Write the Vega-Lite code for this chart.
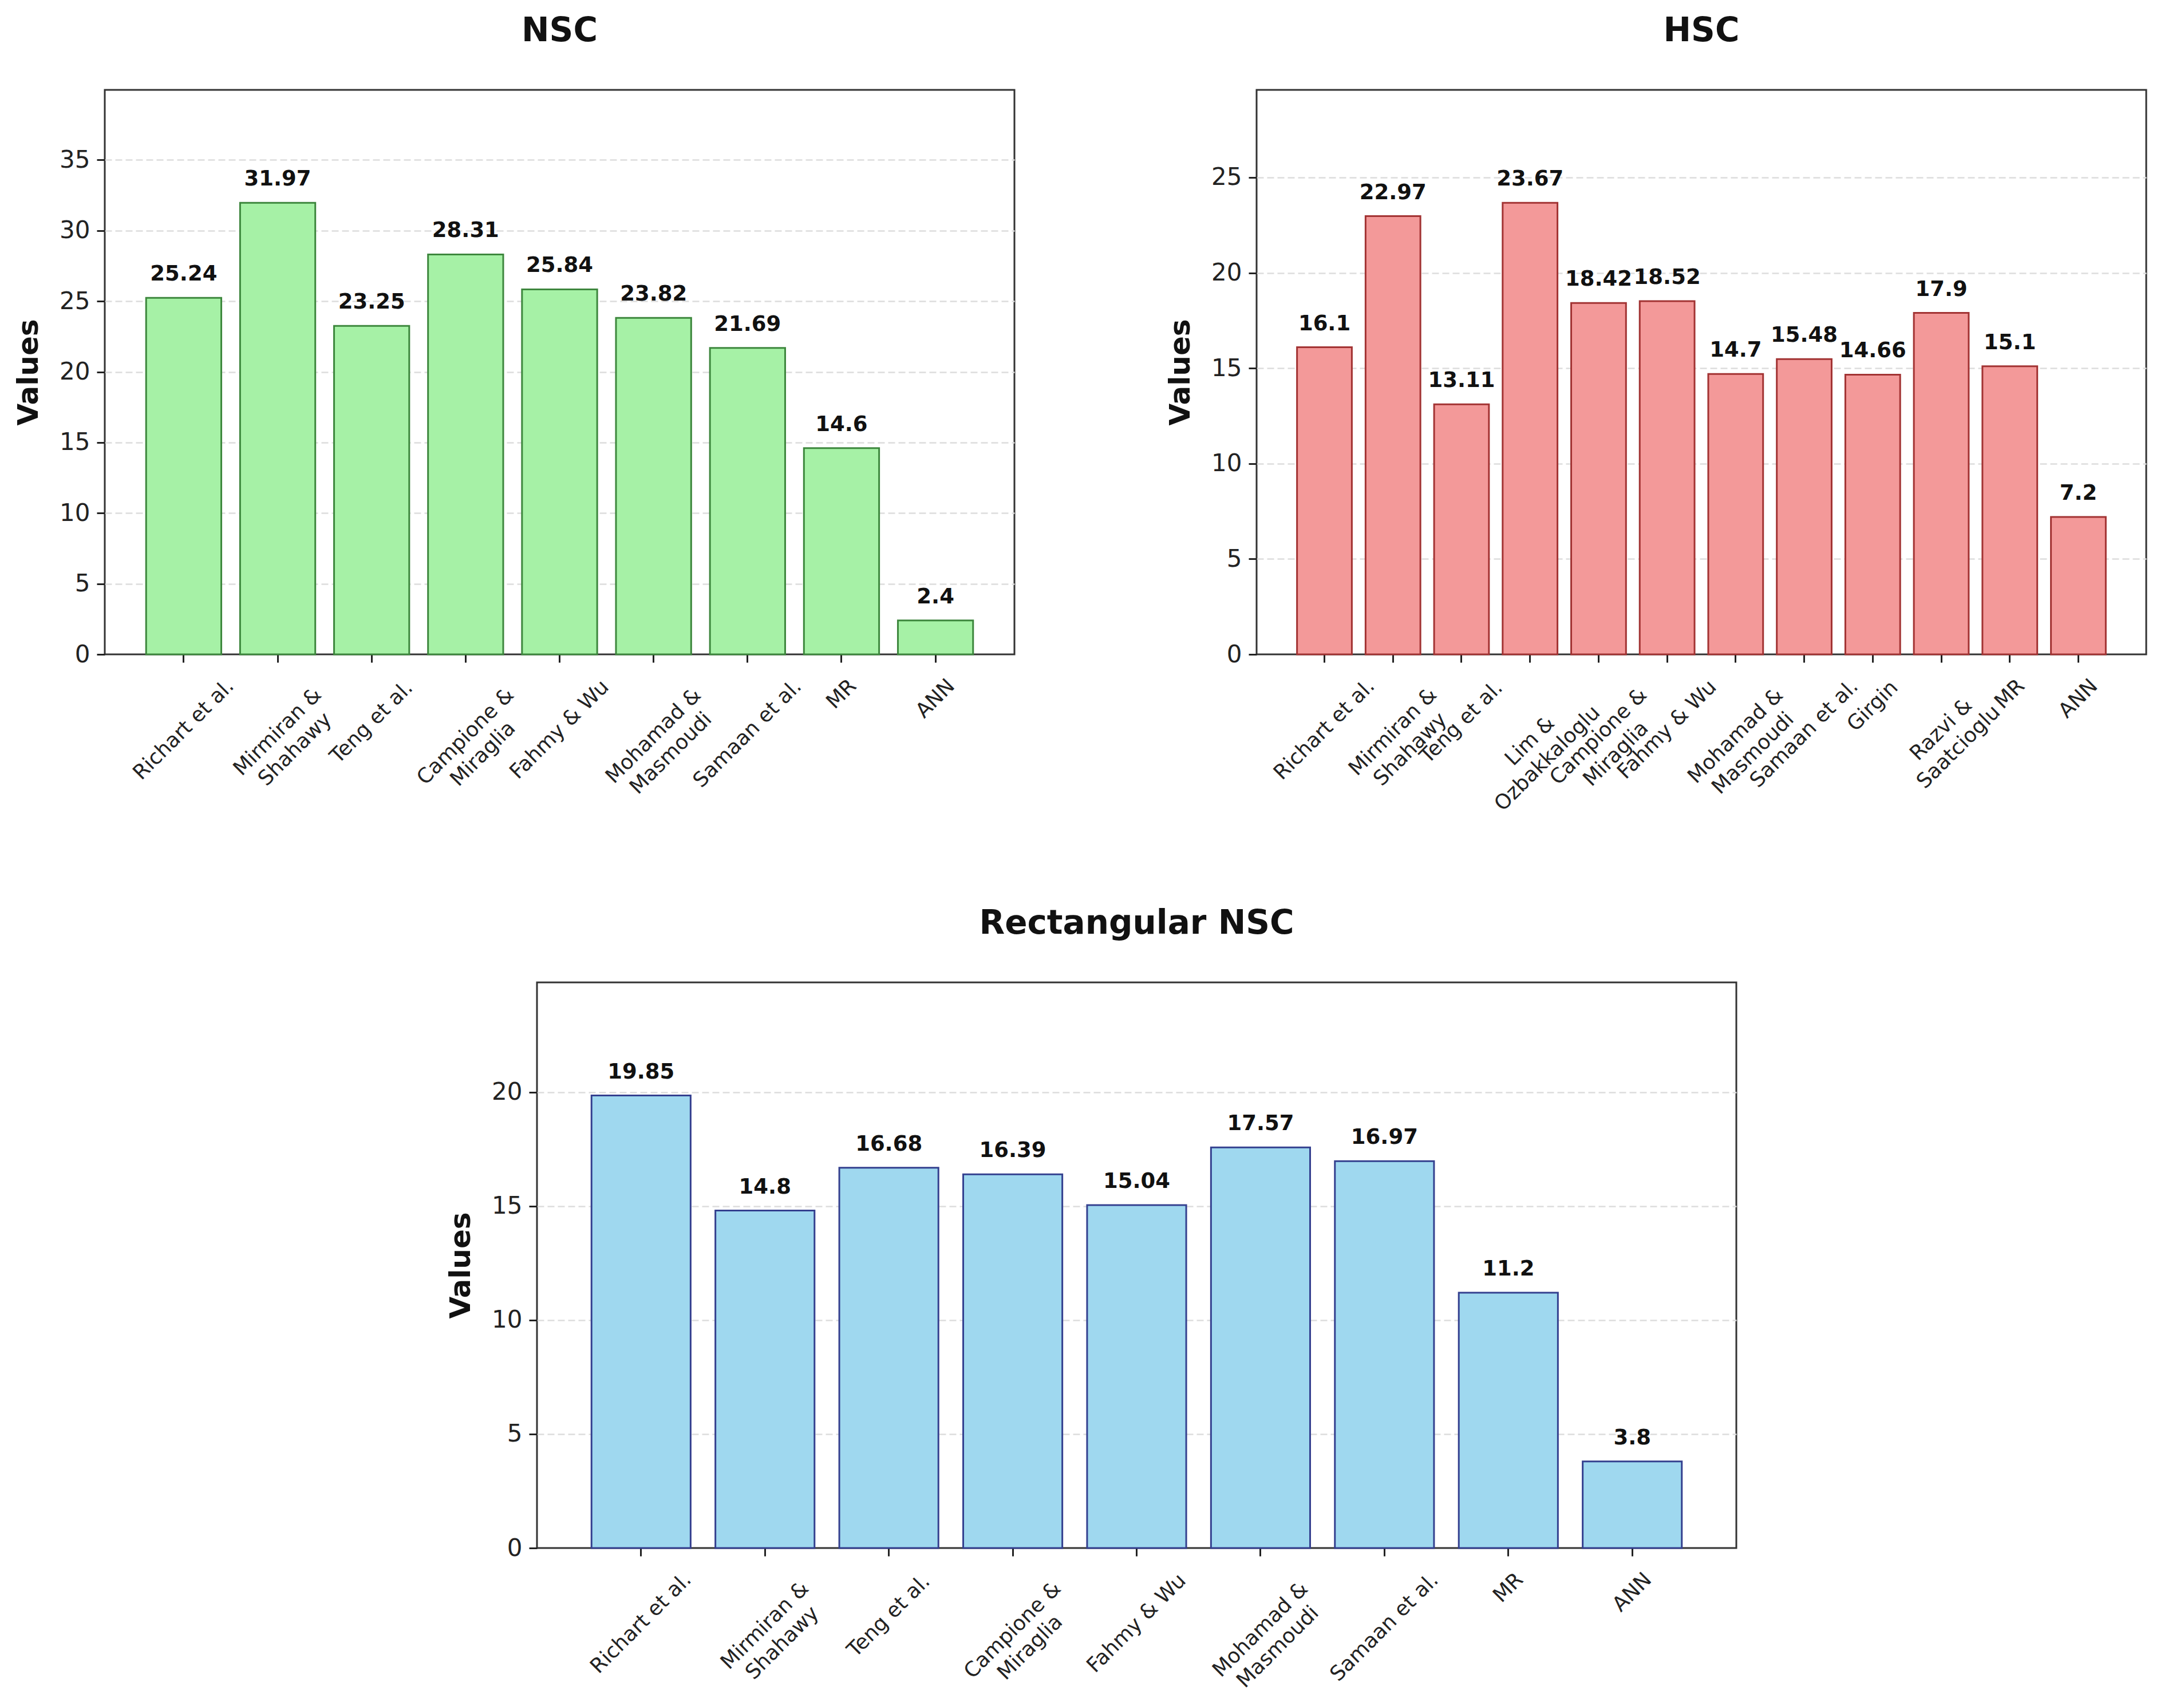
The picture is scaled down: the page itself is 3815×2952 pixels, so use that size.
{
  "$schema": "https://vega.github.io/schema/vega-lite/v6.json",
  "background": "white",
  "padding": {"left": 24, "top": 24, "right": 0, "bottom": 0},
  "datasets": {
    "nsc": [
      {"method": "Richart et al.", "value": 25.24},
      {"method": "Mirmiran &\nShahawy", "value": 31.97},
      {"method": "Teng et al.", "value": 23.25},
      {"method": "Campione &\nMiraglia", "value": 28.31},
      {"method": "Fahmy & Wu", "value": 25.84},
      {"method": "Mohamad &\nMasmoudi", "value": 23.82},
      {"method": "Samaan et al.", "value": 21.69},
      {"method": "MR", "value": 14.6},
      {"method": "ANN", "value": 2.4}
    ],
    "hsc": [
      {"method": "Richart et al.", "value": 16.1},
      {"method": "Mirmiran &\nShahawy", "value": 22.97},
      {"method": "Teng et al.", "value": 13.11},
      {"method": "Lim &\nOzbakkaloglu", "value": 23.67},
      {"method": "Campione &\nMiraglia", "value": 18.42},
      {"method": "Fahmy & Wu", "value": 18.52},
      {"method": "Mohamad &\nMasmoudi", "value": 14.7},
      {"method": "Samaan et al.", "value": 15.48},
      {"method": "Girgin", "value": 14.66},
      {"method": "Razvi &\nSaatcioglu", "value": 17.9},
      {"method": "MR", "value": 15.1},
      {"method": "ANN", "value": 7.2}
    ],
    "rect": [
      {"method": "Richart et al.", "value": 19.85},
      {"method": "Mirmiran &\nShahawy", "value": 14.8},
      {"method": "Teng et al.", "value": 16.68},
      {"method": "Campione &\nMiraglia", "value": 16.39},
      {"method": "Fahmy & Wu", "value": 15.04},
      {"method": "Mohamad &\nMasmoudi", "value": 17.57},
      {"method": "Samaan et al.", "value": 16.97},
      {"method": "MR", "value": 11.2},
      {"method": "ANN", "value": 3.8}
    ]
  },
  "spacing": 158,
  "vconcat": [
    {
      "spacing": 262,
      "hconcat": [
        {
          "title": "NSC",
          "width": 1589,
          "height": 986,
          "data": {"name": "nsc"},
          "encoding": {
            "x": {
              "field": "method", "type": "nominal", "sort": null, "title": null,
              "scale": {"paddingInner": 0.2, "paddingOuter": 0.44},
              "axis": {
                "labelExpr": "split(datum.label, '\\n')",
                "labelPadding": {"condition": [
                  {"test": "datum.label == 'Teng et al.'", "value": 104},
                  {"test": "indexof(datum.label, 'Mirmiran') >= 0", "value": 121},
                  {"test": "indexof(datum.label, 'Campione') >= 0", "value": 129},
                  {"test": "indexof(datum.label, 'Mohamad') >= 0", "value": 128},
                  {"test": "datum.label == 'Samaan et al.'", "value": 124},
                  {"test": "datum.label == 'MR'", "value": 55},
                  {"test": "datum.label == 'ANN'", "value": 63}
                ], "value": 117}
              }
            },
            "y": {
              "field": "value", "type": "quantitative", "title": "Values",
              "scale": {"domain": [0, 39.96], "nice": false},
              "axis": {
                "values": [0, 5, 10, 15, 20, 25, 30, 35],
                "gridOpacity": {"condition": {"test": "datum.value == 0", "value": 0}, "value": 1}
              }
            }
          },
          "layer": [
            {"mark": {"type": "bar", "color": "#a6f1a6", "stroke": "#3d873d", "strokeWidth": 3}},
            {
              "mark": {"type": "text", "baseline": "alphabetic", "dy": -30, "fontSize": 37, "fontWeight": "bold", "color": "#111"},
              "encoding": {"text": {"field": "value", "type": "quantitative"}}
            }
          ]
        },
        {
          "title": "HSC",
          "width": 1554,
          "height": 986,
          "data": {"name": "hsc"},
          "encoding": {
            "x": {
              "field": "method", "type": "nominal", "sort": null, "title": null,
              "scale": {"paddingInner": 0.2, "paddingOuter": 0.59},
              "axis": {
                "labelExpr": "split(datum.label, '\\n')",
                "labelPadding": {"condition": [
                  {"test": "datum.label == 'Teng et al.'", "value": 104},
                  {"test": "indexof(datum.label, 'Mirmiran') >= 0", "value": 121},
                  {"test": "indexof(datum.label, 'Campione') >= 0", "value": 129},
                  {"test": "indexof(datum.label, 'Mohamad') >= 0", "value": 128},
                  {"test": "indexof(datum.label, 'Ozbakkaloglu') >= 0", "value": 137},
                  {"test": "indexof(datum.label, 'Razvi') >= 0", "value": 117},
                  {"test": "datum.label == 'Samaan et al.'", "value": 124},
                  {"test": "datum.label == 'Girgin'", "value": 76},
                  {"test": "datum.label == 'MR'", "value": 55},
                  {"test": "datum.label == 'ANN'", "value": 63}
                ], "value": 117}
              }
            },
            "y": {
              "field": "value", "type": "quantitative", "title": "Values",
              "scale": {"domain": [0, 29.59], "nice": false},
              "axis": {
                "values": [0, 5, 10, 15, 20, 25],
                "gridOpacity": {"condition": {"test": "datum.value == 0", "value": 0}, "value": 1}
              }
            }
          },
          "layer": [
            {"mark": {"type": "bar", "color": "#f39999", "stroke": "#a23333", "strokeWidth": 3}},
            {
              "mark": {"type": "text", "baseline": "alphabetic", "dy": -30, "fontSize": 37, "fontWeight": "bold", "color": "#111"},
              "encoding": {"text": {"field": "value", "type": "quantitative"}}
            }
          ]
        }
      ]
    },
    {
      "spacing": 0,
      "hconcat": [
        {
          "width": 596,
          "height": 1,
          "data": {"values": []},
          "mark": {"type": "point", "opacity": 0},
          "view": {"stroke": null}
        },
        {
          "title": "Rectangular NSC",
          "width": 2095,
          "height": 988,
          "data": {"name": "rect"},
          "encoding": {
            "x": {
              "field": "method", "type": "nominal", "sort": null, "title": null,
              "scale": {"paddingInner": 0.2, "paddingOuter": 0.44},
              "axis": {
                "labelExpr": "split(datum.label, '\\n')",
                "labelPadding": {"condition": [
                  {"test": "datum.label == 'Teng et al.'", "value": 104},
                  {"test": "indexof(datum.label, 'Mirmiran') >= 0", "value": 121},
                  {"test": "indexof(datum.label, 'Campione') >= 0", "value": 129},
                  {"test": "indexof(datum.label, 'Mohamad') >= 0", "value": 128},
                  {"test": "datum.label == 'Samaan et al.'", "value": 124},
                  {"test": "datum.label == 'MR'", "value": 55},
                  {"test": "datum.label == 'ANN'", "value": 63}
                ], "value": 117}
              }
            },
            "y": {
              "field": "value", "type": "quantitative", "title": "Values",
              "scale": {"domain": [0, 24.81], "nice": false},
              "axis": {
                "values": [0, 5, 10, 15, 20],
                "gridOpacity": {"condition": {"test": "datum.value == 0", "value": 0}, "value": 1}
              }
            }
          },
          "layer": [
            {"mark": {"type": "bar", "color": "#9fd8ef", "stroke": "#34408f", "strokeWidth": 3}},
            {
              "mark": {"type": "text", "baseline": "alphabetic", "dy": -30, "fontSize": 37, "fontWeight": "bold", "color": "#111"},
              "encoding": {"text": {"field": "value", "type": "quantitative"}}
            }
          ]
        }
      ]
    }
  ],
  "config": {
    "font": "DejaVu Sans",
    "view": {"stroke": "#333333", "strokeWidth": 3},
    "axis": {
      "domain": false,
      "ticks": true,
      "tickColor": "#222222",
      "tickWidth": 3,
      "tickSize": 14,
      "labelColor": "#222222",
      "titleColor": "#111111",
      "labelFont": "DejaVu Sans",
      "titleFont": "DejaVu Sans"
    },
    "axisY": {
      "grid": true,
      "gridDash": [12, 6],
      "gridColor": "#dddddd",
      "gridWidth": 2.5,
      "labelFontSize": 42,
      "labelPadding": 12,
      "titleFontSize": 50,
      "titleFontWeight": "bold",
      "titlePadding": 28
    },
    "axisX": {
      "grid": false,
      "labelFontSize": 36,
      "labelAngle": -45,
      "labelAlign": "center",
      "labelBaseline": "middle",
      "labelLineHeight": 43,
      "labelLimit": 2000,
      "labelOverlap": false,
      "labelBound": false
    },
    "title": {
      "fontSize": 58,
      "fontWeight": "bold",
      "font": "DejaVu Sans",
      "baseline": "alphabetic",
      "offset": 73,
      "color": "#111111"
    }
  }
}
